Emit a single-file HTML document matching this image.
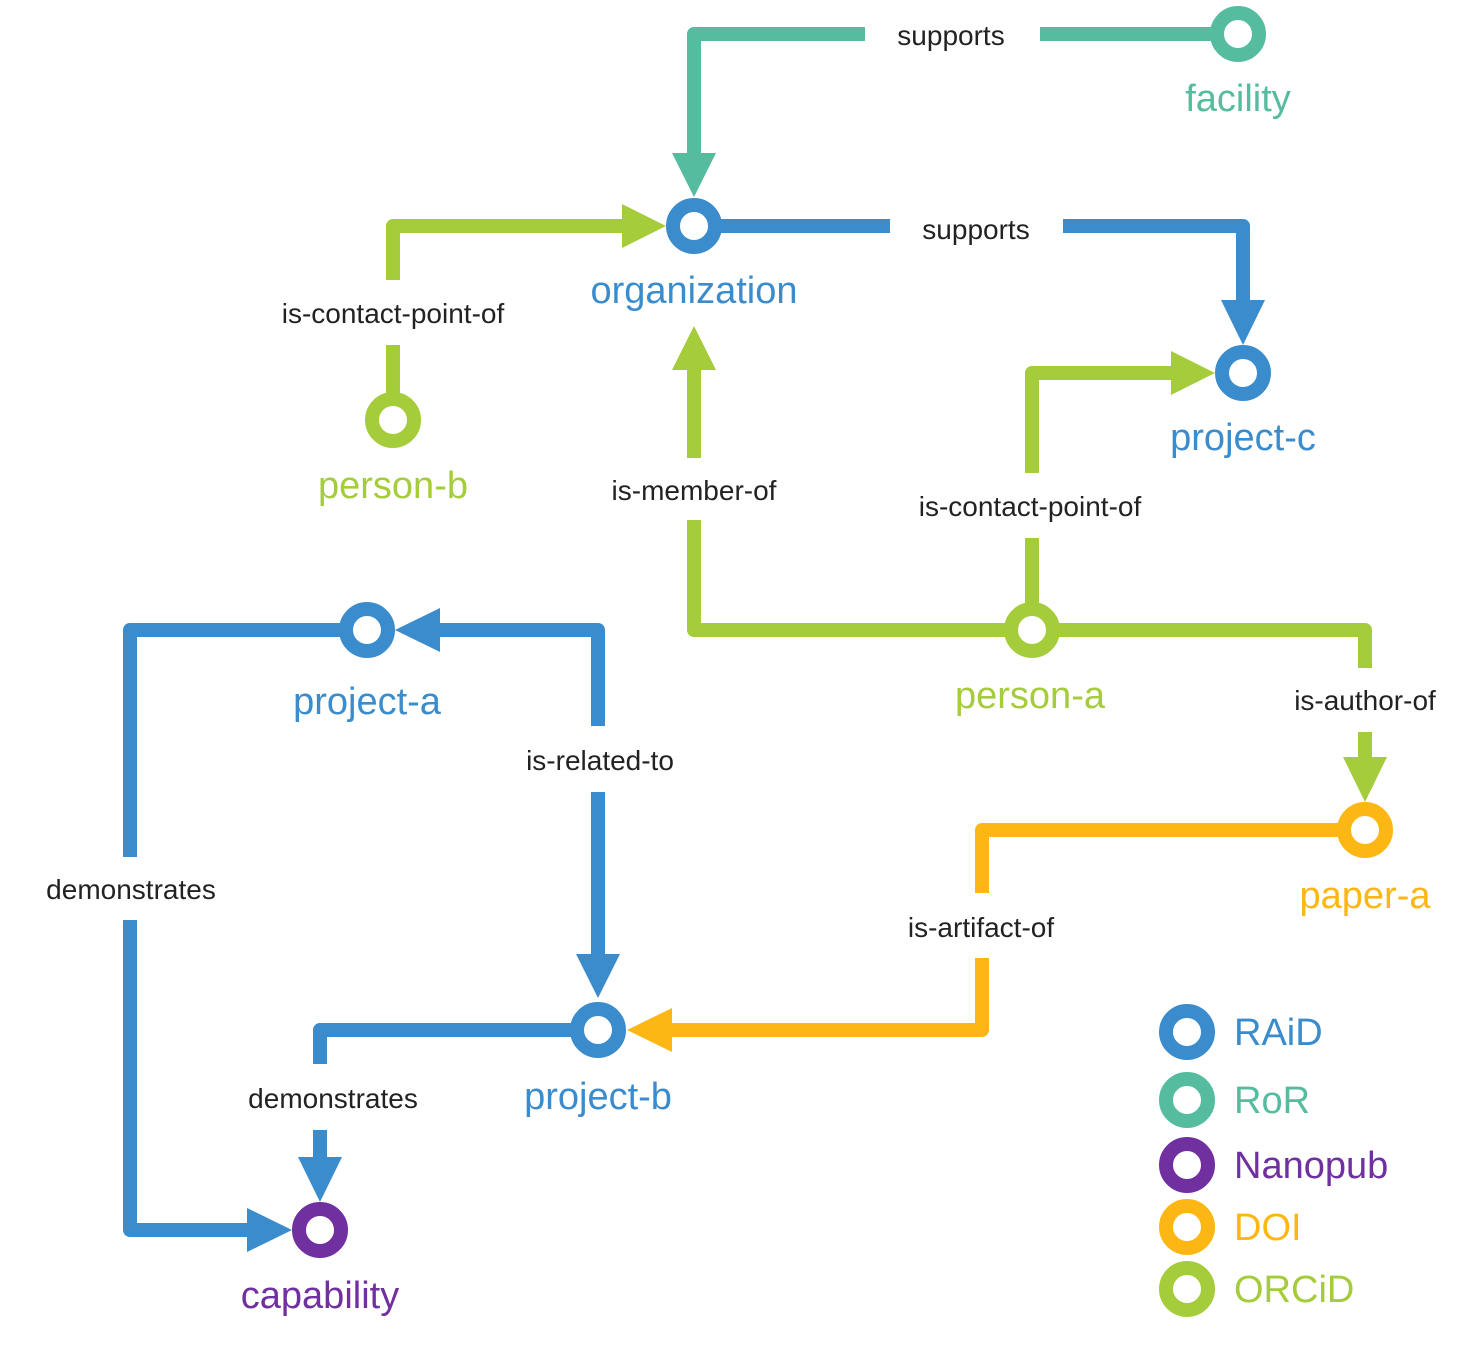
<!DOCTYPE html>
<html><head><meta charset="utf-8"><style>html,body{margin:0;padding:0;background:#fff}svg{display:block}text{font-family:"Liberation Sans",sans-serif}</style></head><body>
<svg width="1480" height="1350" viewBox="0 0 1480 1350" xmlns="http://www.w3.org/2000/svg">
<g fill="none" stroke-width="14" stroke-linejoin="round">
<!-- teal -->
<path d="M865,34 H694 V160" stroke="#55bca0"/>
<path d="M1040,34 H1238" stroke="#55bca0"/>
<!-- blue org->project-c -->
<path d="M694,226 H890" stroke="#3a8ccc"/>
<path d="M1063,226 H1243 V305" stroke="#3a8ccc"/>
<!-- person-b -> org -->
<path d="M393,280 V226 H630" stroke="#a5cc3a"/>
<path d="M393,345 V420" stroke="#a5cc3a"/>
<!-- person-a -> org -->
<path d="M694,458 V365" stroke="#a5cc3a"/>
<path d="M694,520 V630 H1032" stroke="#a5cc3a"/>
<!-- person-a -> project-c -->
<path d="M1032,473 V373 H1178" stroke="#a5cc3a"/>
<path d="M1032,538 V630" stroke="#a5cc3a"/>
<!-- person-a -> paper-a -->
<path d="M1032,630 H1365 V668" stroke="#a5cc3a"/>
<path d="M1365,732 V765" stroke="#a5cc3a"/>
<!-- paper-a -> project-b -->
<path d="M1365,830 H982 V893" stroke="#fdb714"/>
<path d="M982,958 V1030 H665" stroke="#fdb714"/>
<!-- is-related-to -->
<path d="M435,630 H598 V726" stroke="#3a8ccc"/>
<path d="M598,792 V965" stroke="#3a8ccc"/>
<!-- project-a -> capability -->
<path d="M367,630 H130 V857" stroke="#3a8ccc"/>
<path d="M130,920 V1230 H255" stroke="#3a8ccc"/>
<!-- project-b -> capability -->
<path d="M598,1030 H320 V1064" stroke="#3a8ccc"/>
<path d="M320,1130 V1165" stroke="#3a8ccc"/>
</g>
<!-- arrowheads -->
<polygon points="672,153 716,153 694,197" fill="#55bca0"/>
<polygon points="1221,300 1265,300 1243,345" fill="#3a8ccc"/>
<polygon points="622,204 622,248 666,226" fill="#a5cc3a"/>
<polygon points="672,370 716,370 694,326" fill="#a5cc3a"/>
<polygon points="1171,351 1171,395 1215,373" fill="#a5cc3a"/>
<polygon points="1343,757 1387,757 1365,802" fill="#a5cc3a"/>
<polygon points="672,1008 672,1052 627,1030" fill="#fdb714"/>
<polygon points="440,608 440,652 395,630" fill="#3a8ccc"/>
<polygon points="576,954 620,954 598,998" fill="#3a8ccc"/>
<polygon points="247,1208 247,1252 292,1230" fill="#3a8ccc"/>
<polygon points="298,1157 342,1157 320,1202" fill="#3a8ccc"/>
<!-- nodes -->
<g fill="#fff" stroke-width="14">
<circle cx="1238" cy="34" r="21" stroke="#55bca0"/>
<circle cx="694" cy="226" r="21" stroke="#3a8ccc"/>
<circle cx="1243" cy="373" r="21" stroke="#3a8ccc"/>
<circle cx="393" cy="420" r="21" stroke="#a5cc3a"/>
<circle cx="1032" cy="630" r="21" stroke="#a5cc3a"/>
<circle cx="367" cy="630" r="21" stroke="#3a8ccc"/>
<circle cx="1365" cy="830" r="21" stroke="#fdb714"/>
<circle cx="598" cy="1030" r="21" stroke="#3a8ccc"/>
<circle cx="320" cy="1230" r="21" stroke="#7030a0"/>
<circle cx="1187" cy="1032" r="21" stroke="#3a8ccc"/>
<circle cx="1187" cy="1100" r="21" stroke="#55bca0"/>
<circle cx="1187" cy="1165" r="21" stroke="#7030a0"/>
<circle cx="1187" cy="1227" r="21" stroke="#fdb714"/>
<circle cx="1187" cy="1289" r="21" stroke="#a5cc3a"/>
</g>
<!-- node labels -->
<g font-size="38" text-anchor="middle">
<text x="1238" y="111" fill="#55bca0">facility</text>
<text x="694" y="303" fill="#3a8ccc">organization</text>
<text x="1243" y="450" fill="#3a8ccc">project-c</text>
<text x="393" y="498" fill="#a5cc3a">person-b</text>
<text x="1030" y="708" fill="#a5cc3a">person-a</text>
<text x="367" y="714" fill="#3a8ccc">project-a</text>
<text x="1365" y="908" fill="#fdb714">paper-a</text>
<text x="598" y="1109" fill="#3a8ccc">project-b</text>
<text x="320" y="1308" fill="#7030a0">capability</text>
</g>
<g font-size="38">
<text x="1234" y="1045" fill="#3a8ccc">RAiD</text>
<text x="1234" y="1113" fill="#55bca0">RoR</text>
<text x="1234" y="1178" fill="#7030a0">Nanopub</text>
<text x="1234" y="1240" fill="#fdb714">DOI</text>
<text x="1234" y="1302" fill="#a5cc3a">ORCiD</text>
</g>
<!-- edge labels -->
<g font-size="28" fill="#222" text-anchor="middle">
<text x="951" y="45">supports</text>
<text x="976" y="239">supports</text>
<text x="393" y="323">is-contact-point-of</text>
<text x="694" y="500">is-member-of</text>
<text x="1030" y="516">is-contact-point-of</text>
<text x="1365" y="710">is-author-of</text>
<text x="981" y="937">is-artifact-of</text>
<text x="600" y="770">is-related-to</text>
<text x="131" y="899">demonstrates</text>
<text x="333" y="1108">demonstrates</text>
</g>
</svg>
</body></html>
